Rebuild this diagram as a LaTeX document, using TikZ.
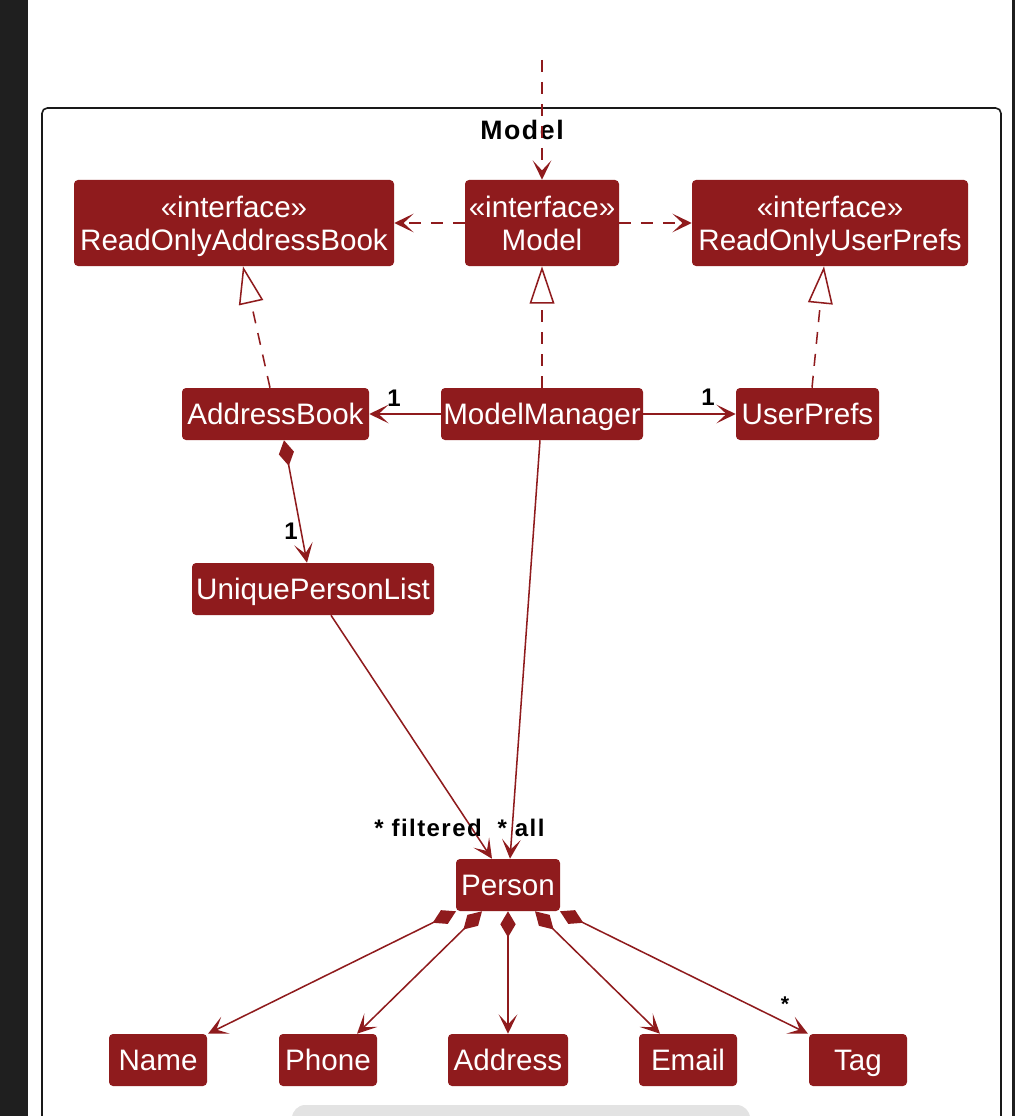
\documentclass[tikz,border=0pt]{standalone}
\usepackage{fontspec}
\setmainfont{Liberation Sans}
\newfontfamily\spacedbold{Liberation Sans}[LetterSpace=6]
\usetikzlibrary{arrows.meta,calc}
\definecolor{umlred}{RGB}{143,27,29}
\definecolor{sidebar}{RGB}{31,31,31}
\definecolor{scrollgray}{RGB}{227,227,227}
% struts give every two-line box the same height and depth
\newcommand{\stereo}{\rule{0pt}{22pt}«interface»}
\newcommand{\lastline}[1]{#1\rule[-5pt]{0pt}{0pt}}
\tikzset{
  box/.style={fill=umlred, draw=none, rounded corners=3pt, text=white,
    font=\fontsize{22.2pt}{24.75pt}\selectfont, align=center, inner sep=0pt},
  cls/.style={box, minimum height=39pt, text height=17.5pt, text depth=1.75pt},
  iface/.style={box, minimum height=64.5pt},
  link/.style={draw=umlred, line width=1.15pt},
  vee/.style={-{Stealth[length=14.5pt,width=14pt,inset=7.5pt]}},
  dep/.style={link, dash pattern=on 9pt off 7.5pt, vee},
  real/.style={link, dash pattern=on 9pt off 7.5pt,
    -{Triangle[open, fill=white, length=28pt, width=18.5pt]}},
  assoc/.style={link, vee},
  comp/.style={link, {Diamond[length=19.5pt,width=11.5pt]}-{Stealth[length=14.5pt,width=14pt,inset=7.5pt]}},
  mult/.style={font=\spacedbold\bfseries\fontsize{18pt}{20pt}\selectfont, inner sep=0pt},
  frametitle/.style={font=\spacedbold\bfseries\fontsize{20pt}{24pt}\selectfont, inner sep=0pt}
}
\begin{document}
\begin{tikzpicture}[x=0.75pt, y=-0.75pt]
  \useasboundingbox (0,0) rectangle (1016,1116);
  \clip (0,0) rectangle (1016,1116);
  \fill[white] (0,0) rectangle (1016,1116);
  % window chrome
  \fill[sidebar] (0,0) rectangle (28,1116);
  \fill[sidebar] (1012,0) rectangle (1015,1116);
  \fill[scrollgray, rounded corners=10pt] (292,1105) rectangle (750,1140);

  % package frame
  \draw[line width=1.2pt, draw=black!90, rounded corners=4pt]
    (42,1140) -- (42,108) -- (1001,108) -- (1001,1140);
  \node[frametitle] (title) at (522,130) {Model};

  % classes and interfaces
  \node[iface, minimum width=240pt] (roab) at (234,223) {\stereo\\\lastline{ReadOnlyAddressBook}};
  \node[iface, minimum width=115.5pt] (model) at (542,223) {\stereo\\\lastline{Model}};
  \node[iface, minimum width=207pt] (roup) at (830,223) {\stereo\\\lastline{ReadOnlyUserPrefs}};

  \node[cls, minimum width=140.25pt] (ab) at (275.5,414) {AddressBook};
  \node[cls, minimum width=151.5pt] (mm) at (542,414) {ModelManager};
  \node[cls, minimum width=107.25pt] (up) at (807.5,414) {UserPrefs};

  \node[cls, minimum width=181.5pt] (upl) at (313,589) {UniquePersonList};
  \node[cls, minimum width=78pt] (person) at (508,885) {Person};

  \node[cls, minimum width=73.5pt] (name) at (158,1060) {Name};
  \node[cls, minimum width=73.5pt] (phone) at (328,1060) {Phone};
  \node[cls, minimum width=90pt] (address) at (508,1060) {Address};
  \node[cls, minimum width=73.5pt] (email) at (688,1060) {Email};
  \node[cls, minimum width=73.5pt] (tag) at (858,1060) {Tag};

  % incoming dependency from outside the package
  \coordinate (entry) at (542,60);
  \draw[dep] (entry) -- (model.north);

  % interface dependencies and realizations
  \draw[dep] (model.west) -- (roab.east);
  \draw[dep] (model.east) -- (roup.west);
  \draw[real] (mm.north) -- (model.south);
  \draw[real] ($(ab.north)+(-5.5,0)$) -- ($(roab.south)+(9,0)$);
  \draw[real] ($(up.north)+(4.5,0)$) -- ($(roup.south)+(-6,0)$);

  % associations
  \draw[assoc] (mm.west) -- (ab.east);
  \node[mult] (m1) at (394,398) {1};
  \draw[assoc] (mm.east) -- (up.west);
  \node[mult] (m2) at (708,397) {1};
  \draw[comp] ($(ab.south)+(8.5,0)$) -- ($(upl.north)+(-6,0)$);
  \node[mult] (m3) at (291,531) {1};
  \draw[assoc] ($(upl.south)+(18,0)$) -- ($(person.north)+(-16,0)$);
  \draw[assoc] ($(mm.south)+(-2,0)$) -- ($(person.north)+(2,0)$);
  \node[mult] (mf) at (428,828) {*\,\,filtered};
  \node[mult] (ma) at (521,828) {*\,\,all};

  % person attributes
  \draw[comp] ($(person.south)+(-52,0)$) -- ($(name.north)+(50,0)$);
  \draw[comp] ($(person.south)+(-26,0)$) -- ($(phone.north)+(29,0)$);
  \draw[comp] (person.south) -- (address.north);
  \draw[comp] ($(person.south)+(27,0)$) -- ($(email.north)+(-28,0)$);
  \draw[comp] ($(person.south)+(52,0)$) -- ($(tag.north)+(-50,0)$);
  \node[mult, font=\bfseries\fontsize{16pt}{18pt}\selectfont] (mt) at (785,1004) {*};
\end{tikzpicture}
\end{document}
